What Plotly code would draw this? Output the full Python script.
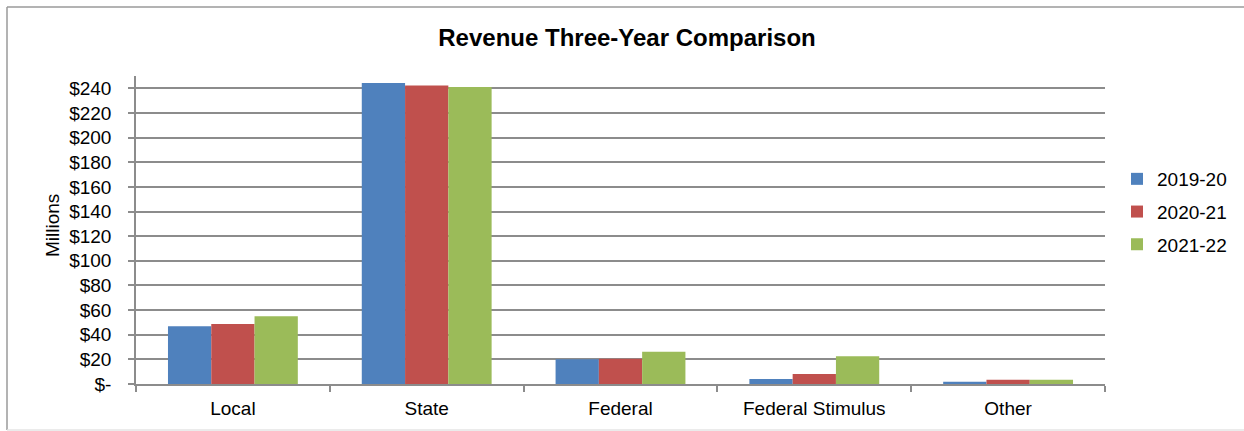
import plotly.graph_objects as go

categories = ["Local", "State", "Federal", "Federal Stimulus", "Other"]
years = ["2019-20", "2020-21", "2021-22"]
v2019 = [46.8, 244.3, 20.0, 4.0, 1.8]
v2020 = [48.6, 242.2, 20.5, 8.2, 3.4]
v2021 = [54.9, 241.1, 26.2, 22.5, 3.4]
colors = ["#4F81BD", "#C0504D", "#9BBB59"]
tick_vals = [0, 20, 40, 60, 80, 100, 120, 140, 160, 180, 200, 220, 240]
tick_text = ["$-", "$20", "$40", "$60", "$80", "$100", "$120", "$140", "$160",
             "$180", "$200", "$220", "$240"]

FONT = "Liberation Sans, Arial, sans-serif"
W, H = 1244, 431
L, R, T, B = 136, 139, 76, 47
pw, ph = W - L - R, H - T - B

fig = go.Figure()
for name, vals, c in zip(years, [v2019, v2020, v2021], colors):
    fig.add_trace(go.Bar(name=name, x=categories, y=vals, marker_color=c,
                         marker_line_width=0, legendgroup=name))

def px_x(p):
    return (p - L) / pw

def px_y(p):
    return (H - B - p) / ph

fig.update_layout(
    width=W, height=H,
    margin=dict(l=L, r=R, t=T, b=B, autoexpand=False),
    paper_bgcolor="white", plot_bgcolor="white",
    barmode="group", bargap=0.33, bargroupgap=0,
    font=dict(family=FONT, size=19, color="#000000"),
    title=dict(text="<b>Revenue Three-Year Comparison</b>", font=dict(size=24, family=FONT),
               x=627 / W, xanchor="center", y=1 - 38 / H, yanchor="middle"),
    legend=dict(x=px_x(1117), xanchor="left", y=px_y(160), yanchor="top",
                font=dict(size=19), itemwidth=30, tracegroupgap=5,
                traceorder="grouped", bgcolor="rgba(0,0,0,0)"),
    showlegend=True,
    xaxis=dict(showgrid=False, showline=True, linecolor="#8c8c8c", linewidth=1.5,
               ticks="outside", tickson="boundaries", ticklen=6, tickcolor="#8c8c8c",
               tickwidth=1.5, tickfont=dict(size=19), ticklabelstandoff=6),
    yaxis=dict(range=[0, 250], tickvals=tick_vals, ticktext=tick_text,
               showgrid=True, gridcolor="#8c8c8c", gridwidth=1.5,
               showline=True, linecolor="#8c8c8c", linewidth=1.5,
               ticks="outside", ticklen=6, tickcolor="#8c8c8c", tickwidth=1.5,
               tickfont=dict(size=19), zeroline=False, ticklabelstandoff=13),
    annotations=[
        dict(text="Millions", xref="paper", yref="paper", x=px_x(52), y=px_y(226),
             xanchor="center", yanchor="middle", textangle=-90, showarrow=False,
             font=dict(size=19)),
    ],
    shapes=[
        dict(type="line", xref="paper", yref="paper", x0=px_x(7), x1=px_x(1260),
             y0=px_y(7), y1=px_y(7), line=dict(color="#9a9a9a", width=1.5)),
        dict(type="line", xref="paper", yref="paper", x0=px_x(7), x1=px_x(7),
             y0=px_y(7), y1=px_y(430), line=dict(color="#9a9a9a", width=1.5)),
        dict(type="line", xref="paper", yref="paper", x0=px_x(7), x1=px_x(1260),
             y0=px_y(430), y1=px_y(430), line=dict(color="#e4e4e4", width=1.5)),
    ],
)

fig.write_html("out.html")
